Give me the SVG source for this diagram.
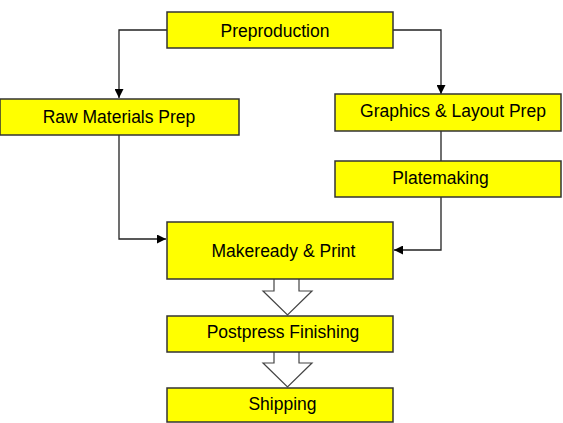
<svg xmlns="http://www.w3.org/2000/svg" width="563" height="423" viewBox="0 0 563 423">
<style>
.box{fill:#ffff00;stroke:#333;stroke-width:1.5}
.lbl{font-family:"Liberation Sans",Arial,sans-serif;font-size:17.5px;fill:#000;text-anchor:middle}
.ln{fill:none;stroke:#222;stroke-width:1.3}
.big{fill:#fff;stroke:#444;stroke-width:1.2}
</style>
<defs>
<marker id="ah" viewBox="0 0 10 10" refX="10" refY="5" markerWidth="10" markerHeight="9" markerUnits="userSpaceOnUse" orient="auto">
<path d="M0,0 L10,5 L0,10 z" fill="#000"/>
</marker>
</defs>
<rect width="563" height="423" fill="#fff"/>
<g id="connectors">
<path class="ln" d="M167,30 H119 V98" marker-end="url(#ah)"/>
<path class="ln" d="M393,30 H441 V94" marker-end="url(#ah)"/>
<path class="ln" d="M441,131 V161"/>
<path class="ln" d="M441,197 V250 H394" marker-end="url(#ah)"/>
<path class="ln" d="M119,135 V239 H166" marker-end="url(#ah)"/>
<path class="big" d="M274,279 V291 H263 L287.5,315 L312,291 H299 V279"/>
<path class="big" d="M274,352 V363 H263 L287.5,387 L312,363 H299 V352"/>
</g>
<g id="preproduction"><rect class="box" x="167" y="12" width="226" height="36"/><text class="lbl" x="275" y="36.5">Preproduction</text></g>
<g id="raw-materials"><rect class="box" x="0" y="99" width="239" height="36"/><text class="lbl" x="119" y="122.5">Raw Materials Prep</text></g>
<g id="graphics"><rect class="box" x="335" y="94" width="226" height="37"/><text class="lbl" x="453" y="117">Graphics &amp; Layout Prep</text></g>
<g id="platemaking"><rect class="box" x="335" y="161" width="226" height="36"/><text class="lbl" x="440.5" y="184">Platemaking</text></g>
<g id="makeready"><rect class="box" x="167" y="222" width="226" height="57"/><text class="lbl" x="283.5" y="256.5">Makeready &amp; Print</text></g>
<g id="postpress"><rect class="box" x="167" y="316" width="226" height="36"/><text class="lbl" x="283" y="338">Postpress Finishing</text></g>
<g id="shipping"><rect class="box" x="167" y="388" width="226" height="34"/><text class="lbl" x="282.5" y="410">Shipping</text></g>
</svg>
